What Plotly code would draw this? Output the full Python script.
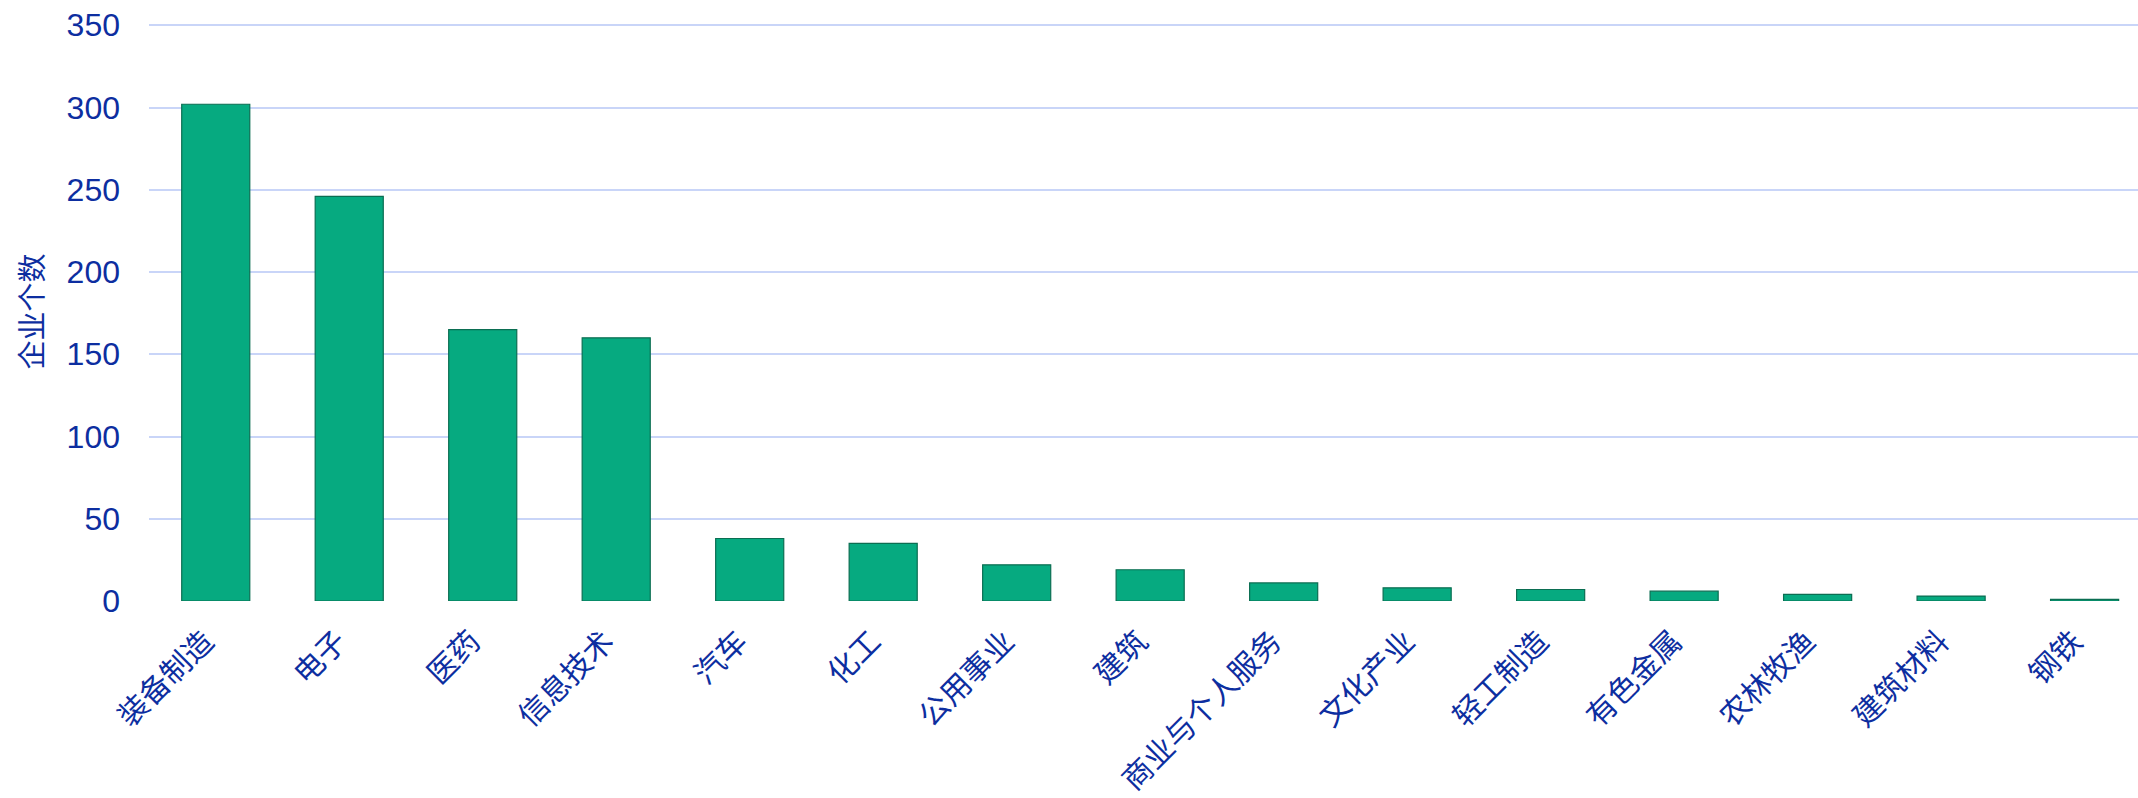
import plotly.graph_objects as go

categories = ["装备制造", "电子", "医药", "信息技术", "汽车", "化工", "公用事业", "建筑",
              "商业与个人服务", "文化产业", "轻工制造", "有色金属", "农林牧渔", "建筑材料", "钢铁"]
counts = [302, 246, 165, 160, 38, 35, 22, 19, 11, 8, 7, 6, 4, 3, 1]
y_ticks = [0, 50, 100, 150, 200, 250, 300, 350]

TEXT = "#0d2ea0"
FONT = "Liberation Sans, Arial, Noto Sans CJK SC, sans-serif"
CJK = "Noto Sans CJK SC, sans-serif"

fig = go.Figure()
fig.add_trace(go.Bar(
    x=categories,
    y=counts,
    marker=dict(color="#06aa80", line=dict(color="#0b6e52", width=1.2)),
    width=0.51,
    showlegend=False,
))

fig.update_layout(
    width=2138, height=798,
    margin=dict(l=149, r=0, t=22, b=197, autoexpand=False),
    paper_bgcolor="white", plot_bgcolor="white",
    font=dict(family=FONT, color=TEXT),
    xaxis=dict(
        type="category",
        range=[-0.5, 14.4],
        tickangle=-45,
        tickfont=dict(size=30, color=TEXT, family=CJK),
        showgrid=False, zeroline=False, showline=False,
        ticks="",
        ticklabelstandoff=16,
        ticklabelshift=-11,
        automargin=False,
    ),
    yaxis=dict(
        range=[0, 352],
        tickvals=y_ticks,
        tickfont=dict(size=32, color=TEXT),
        showgrid=True, gridcolor="#c9d5f8", gridwidth=2,
        zeroline=False, showline=False, ticks="",
        ticklabelstandoff=28,
        automargin=False,
        title=dict(text="企业个数", font=dict(size=29, color=TEXT, family=CJK),
                   standoff=14),
    ),
)

fig.write_html("out.html", post_script="document.body.style.margin='0';",
               config={"displayModeBar": False})
